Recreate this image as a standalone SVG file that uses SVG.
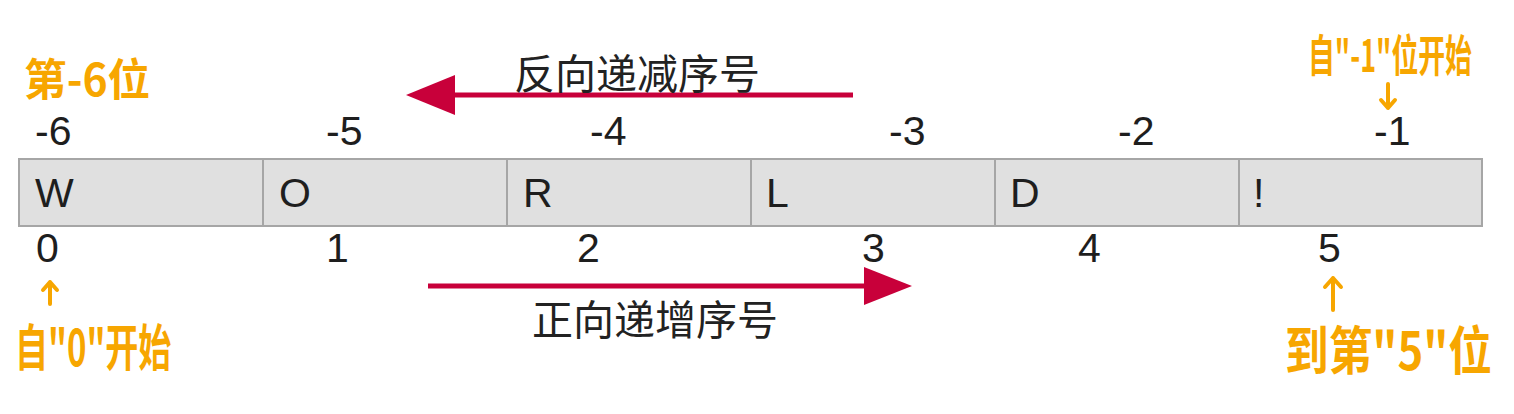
<svg xmlns="http://www.w3.org/2000/svg" width="1514" height="414" viewBox="0 0 1514 414">
<style>
.cell{fill:#e0e0e0;stroke:#a6a6a6;stroke-width:2}
.t{font-family:"Liberation Sans",Arial,sans-serif;font-size:41px;fill:#1e1e1e}
.cn{font-family:"Noto Sans CJK SC","Noto Sans",sans-serif;font-size:41px;fill:#222}
.hw{font-family:"Noto Sans CJK SC",sans-serif;font-weight:bold;fill:#f7a600}
.oa{stroke:#f7a600;stroke-width:4;fill:none;stroke-linecap:round;stroke-linejoin:round}
.ar{stroke:#c8003a;stroke-width:5;fill:none}
.hd{fill:#c8003a}
</style>
<rect width="1514" height="414" fill="#fff"/>
<g id="cells">
<g id="c0"><rect class="cell" x="19" y="159" width="244" height="67"/><text class="t" x="35" y="207">W</text><text class="t" x="35" y="145">-6</text><text class="t" x="36" y="262">0</text></g>
<g id="c1"><rect class="cell" x="263" y="159" width="244" height="67"/><text class="t" x="279" y="207">O</text><text class="t" x="326" y="145">-5</text><text class="t" x="326" y="262">1</text></g>
<g id="c2"><rect class="cell" x="507" y="159" width="244" height="67"/><text class="t" x="523" y="207">R</text><text class="t" x="590" y="145">-4</text><text class="t" x="577" y="262">2</text></g>
<g id="c3"><rect class="cell" x="751" y="159" width="244" height="67"/><text class="t" x="766" y="207">L</text><text class="t" x="889" y="145">-3</text><text class="t" x="862" y="262">3</text></g>
<g id="c4"><rect class="cell" x="995" y="159" width="244" height="67"/><text class="t" x="1010" y="207">D</text><text class="t" x="1118" y="145">-2</text><text class="t" x="1078" y="262">4</text></g>
<g id="c5"><rect class="cell" x="1239" y="159" width="243" height="67"/><text class="t" x="1253" y="207">!</text><text class="t" x="1374" y="145">-1</text><text class="t" x="1318" y="262">5</text></g>
</g>
<g id="connectors">
<line class="ar" x1="853" y1="95" x2="450" y2="95"/>
<polygon class="hd" points="406,95 455,75 455,115"/>
<line class="ar" x1="428" y1="286" x2="868" y2="286"/>
<polygon class="hd" points="912,286 864,267 864,305"/>
</g>
<g id="labels">
<text class="cn" x="514" y="89">反向递减序号</text>
<text class="cn" x="532" y="335">正向递增序号</text>
</g>
<g id="notes">
<text class="hw" font-size="44" transform="translate(24,96) scale(0.97,1)">第-6位</text>
<text class="hw" font-size="44" transform="translate(1308,72) scale(0.61,1)">自"-1"位开始</text>
<path class="oa" d="M1388 84 L1388 108 M1381 100 L1388 108 L1395 100"/>
<text class="hw" font-size="50" transform="translate(15,366) scale(0.66,1)">自"0"开始</text>
<path class="oa" d="M50 304 L50 282 M43 290 L50 282 L57 290"/>
<text class="hw" font-size="52" transform="translate(1285,370) scale(0.84,1)">到第"5"位</text>
<path class="oa" d="M1333 310 L1333 278 M1325 287 L1333 278 L1341 287"/>
</g>
</svg>
